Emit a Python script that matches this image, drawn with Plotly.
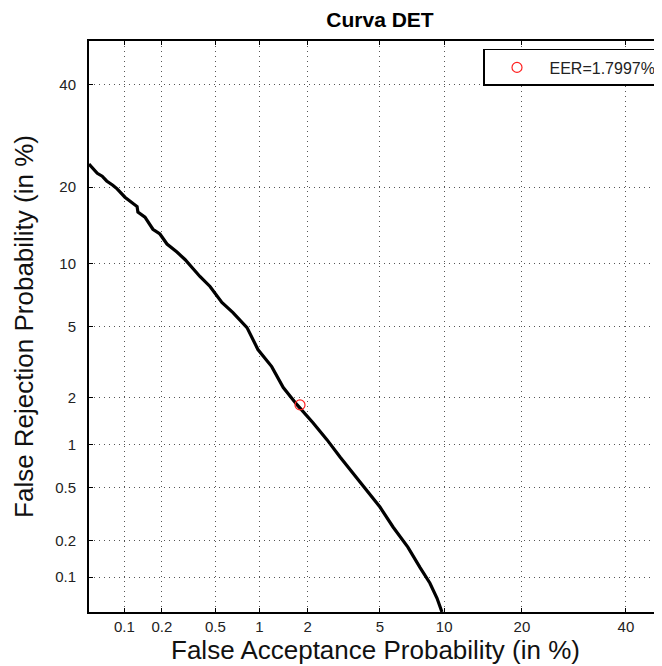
from statistics import NormalDist
import plotly.graph_objects as go

# DET curve values (percent)
fa_pct = [0.050, 0.059, 0.065, 0.071, 0.080, 0.087, 0.101, 0.122, 0.127, 0.129,
          0.147, 0.170, 0.193, 0.219, 0.261, 0.300, 0.387, 0.458, 0.522, 0.556,
          0.664, 0.827, 0.977, 1.20, 1.42, 1.73, 2.15, 2.59, 3.07, 3.61,
          4.29, 5.00, 5.81, 6.85, 7.80, 8.66, 9.31, 9.78]
fr_pct = [23.9, 22.3, 21.8, 21.0, 20.3, 19.7, 18.4, 17.3, 17.0, 16.2,
          15.5, 13.9, 13.3, 12.1, 11.2, 10.4, 8.74, 7.86, 6.97, 6.59,
          5.88, 4.93, 3.77, 3.03, 2.29, 1.80, 1.39, 1.08, 0.827, 0.640,
          0.484, 0.362, 0.255, 0.177, 0.121, 0.089, 0.066, 0.050]
eer_pct = 1.7997
tick_pct = [0.1, 0.2, 0.5, 1, 2, 5, 10, 20, 40]
tick_text = ["0.1", "0.2", "0.5", "1", "2", "5", "10", "20", "40"]

nd = NormalDist()
def probit(p_pct):
    return nd.inv_cdf(p_pct / 100.0)

FONT = "Liberation Sans, Arial, Helvetica, sans-serif"
W, H = 654, 658

fig = go.Figure()
fig.add_trace(go.Scatter(
    x=[probit(v) for v in fa_pct], y=[probit(v) for v in fr_pct],
    mode="lines", line=dict(color="black", width=3.2), showlegend=False,
    hoverinfo="skip"))
fig.add_trace(go.Scatter(
    x=[probit(eer_pct)], y=[probit(eer_pct)], mode="markers",
    marker=dict(symbol="circle-open", color="#ff2020", size=10, line=dict(width=1.2)),
    name="EER=1.7997%"))

lo = probit(0.05)
axis_common = dict(
    tickmode="array", tickvals=[probit(v) for v in tick_pct], ticktext=tick_text,
    showgrid=True, gridcolor="#555555", griddash="1px,4px", gridwidth=1,
    zeroline=False, showline=True, linecolor="black", linewidth=2,
    ticks="inside", ticklen=4, tickcolor="black", mirror="ticks",
    tickfont=dict(family=FONT, size=15, color="#222222"),
)
fig.update_xaxes(range=[lo, -0.0495], **axis_common,
                 title=dict(text="False Acceptance Probability (in %)",
                            font=dict(family=FONT, size=26, color="#111111"),
                            standoff=3))
fig.update_yaxes(range=[lo, 0.0], **axis_common, ticklabelstandoff=8,
                 title=dict(text="False Rejection Probability (in %)",
                            font=dict(family=FONT, size=26, color="#111111"),
                            standoff=14))
fig.update_layout(
    width=W, height=H, autosize=False,
    margin=dict(l=81, r=0, t=33, b=54, autoexpand=False),
    plot_bgcolor="white", paper_bgcolor="white",
    title=dict(text="<b>Curva DET</b>", x=372 / W, xanchor="center",
               y=1 - 12 / H, yanchor="middle",
               font=dict(family=FONT, size=21, color="black")),
    legend=dict(x=1, xanchor="right", y=0.986, yanchor="top",
                bordercolor="black", borderwidth=1.5, bgcolor="white",
                font=dict(family=FONT, size=16, color="#222222"),
                itemwidth=55),
)
fig.write_html("out.html")
